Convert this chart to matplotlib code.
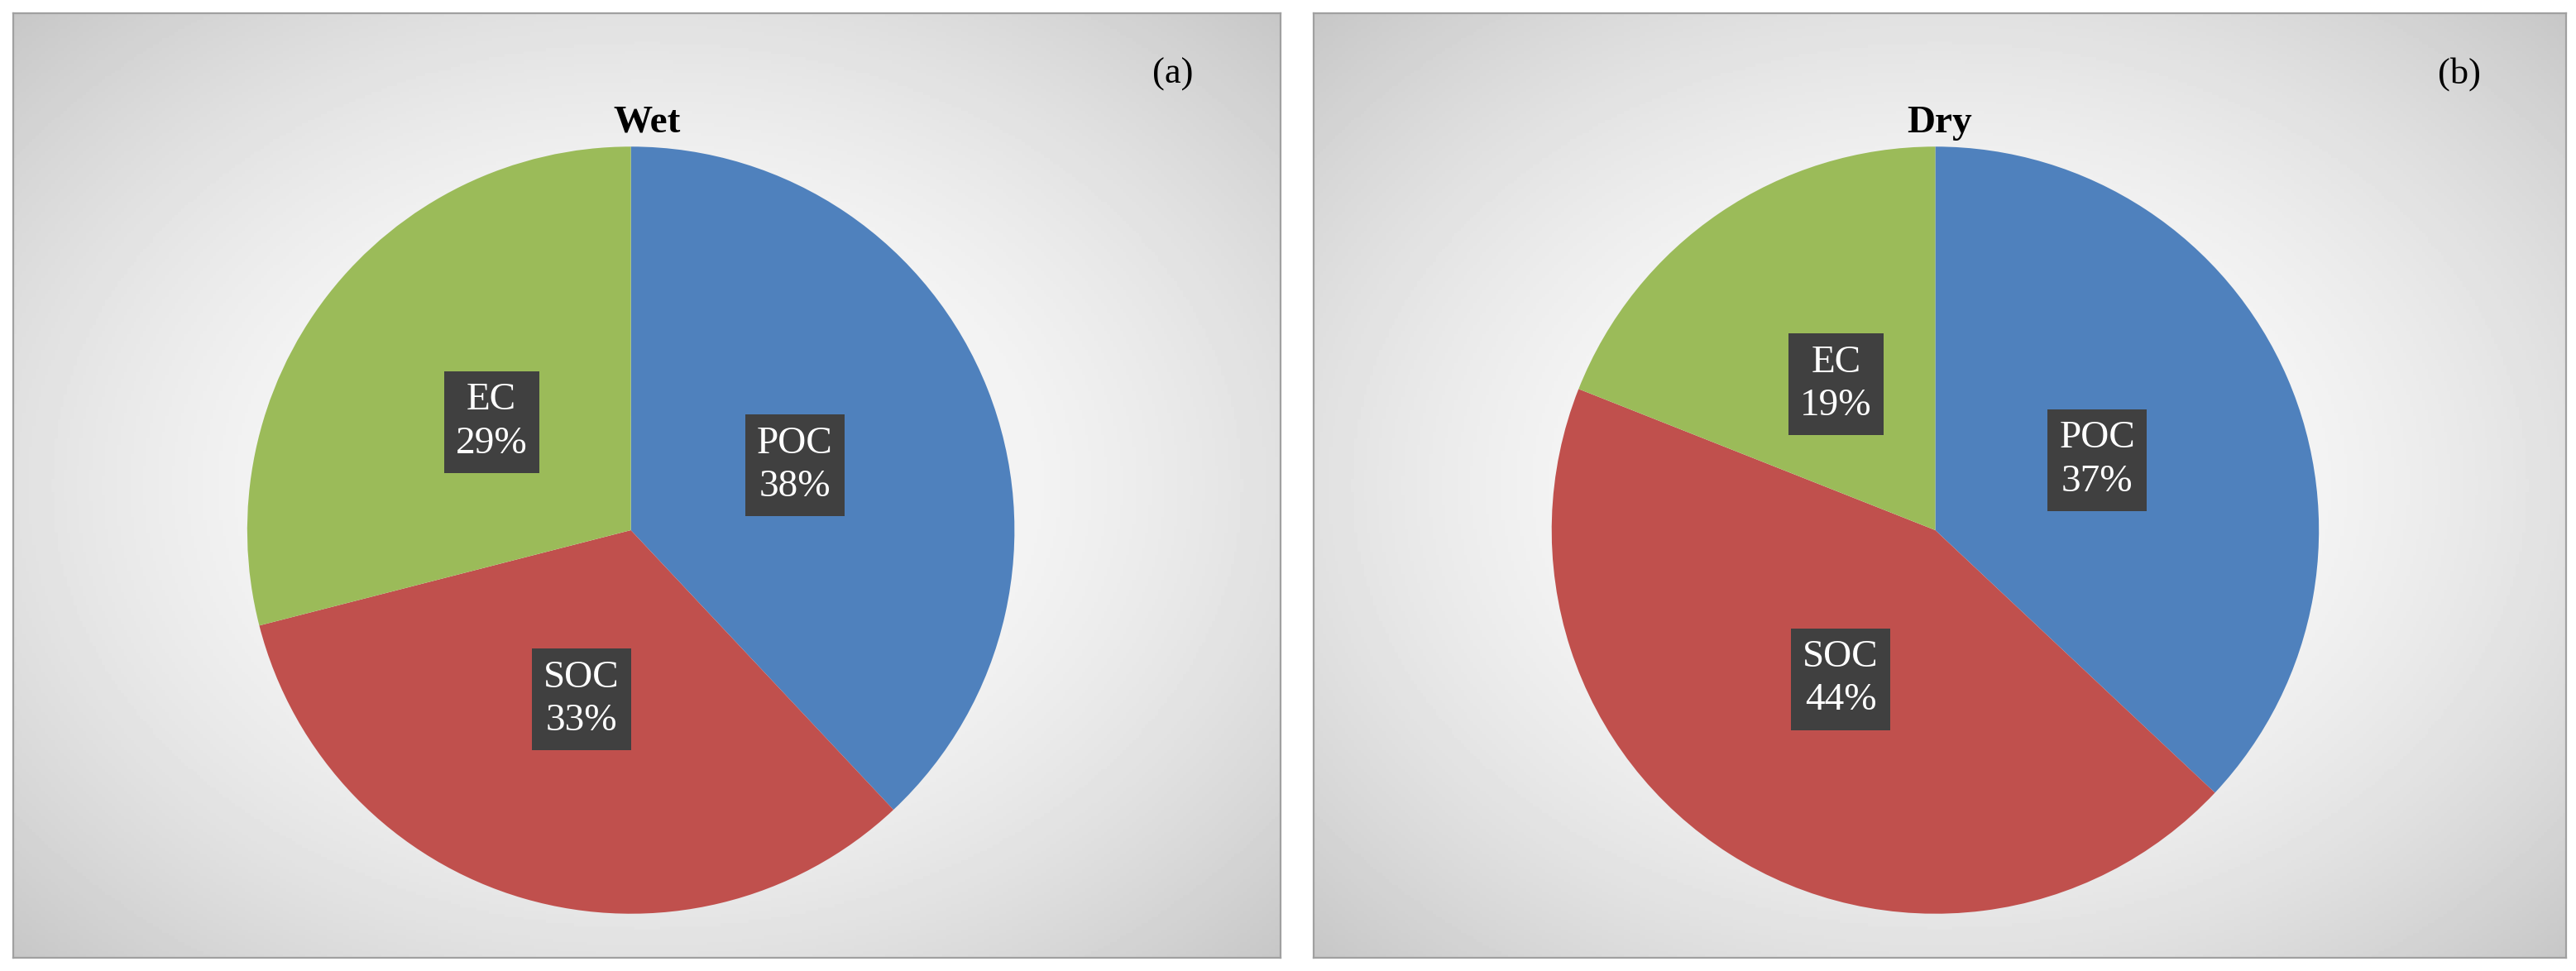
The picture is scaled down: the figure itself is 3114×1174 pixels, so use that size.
import numpy as np
import matplotlib
matplotlib.use('Agg')
import matplotlib.pyplot as plt

categories = ["POC", "SOC", "EC"]
wet_values = [38, 33, 29]
dry_values = [37, 44, 19]
titles = ["Wet", "Dry"]
tags = ["(a)", "(b)"]
colors = ["#4f81bd", "#c0504d", "#9bbb59"]

plt.rcParams['font.family'] = ['Liberation Serif', 'DejaVu Serif']

fig = plt.figure(figsize=(15.57, 5.87), dpi=200)
fig.patch.set_facecolor("white")

# radial gradient background
yy, xx = np.mgrid[-1:1:300j, -1:1:400j]
rr = np.sqrt(xx**2 + yy**2) / np.sqrt(2)
grad = 1.0 - 0.22 * rr**1.8

panels = [(0.005, 0.014, 0.492, 0.972), (0.51, 0.014, 0.486, 0.972)]
centers = [384 / 1568, 1178 / 1568]
for (x0, y0, w, h), vals, title, tag, cx in zip(panels, [wet_values, dry_values], titles, tags, centers):
    bg = fig.add_axes([x0, y0, w, h])
    bg.imshow(grad, cmap="gray", vmin=0, vmax=1, extent=[0, 1, 0, 1], aspect="auto")
    bg.set_xticks([]); bg.set_yticks([])
    for s in bg.spines.values():
        s.set_color("#a0a0a0"); s.set_linewidth(0.8)
    bg.text(0.5, 0.884, title, ha="center", va="center", fontsize=17, fontweight="bold", transform=bg.transAxes)
    bg.text(0.915, 0.936, tag, ha="center", va="center", fontsize=16, transform=bg.transAxes)

    side = 0.79
    pw = side * 5.87 / 15.57
    ax = fig.add_axes([cx - pw / 2, 0.454 - side / 2, pw, side])
    wedges, _ = ax.pie(vals, colors=colors, startangle=90, counterclock=False,
                       wedgeprops=dict(linewidth=0), radius=1.0)
    ax.set_xlim(-1, 1); ax.set_ylim(-1, 1)
    ax.set_aspect("equal")
    for wdg, cat, v in zip(wedges, categories, vals):
        mid = np.deg2rad((wdg.theta1 + wdg.theta2) / 2)
        r = 0.46
        ax.text(r * np.cos(mid), r * np.sin(mid), f"{cat}\n{v}%", ha="center", va="center",
                color="white", fontsize=17, linespacing=1.3,
                bbox=dict(boxstyle="square,pad=0.3", facecolor="#404040", edgecolor="none"))

fig.savefig("out.png", dpi=200, facecolor="white")
